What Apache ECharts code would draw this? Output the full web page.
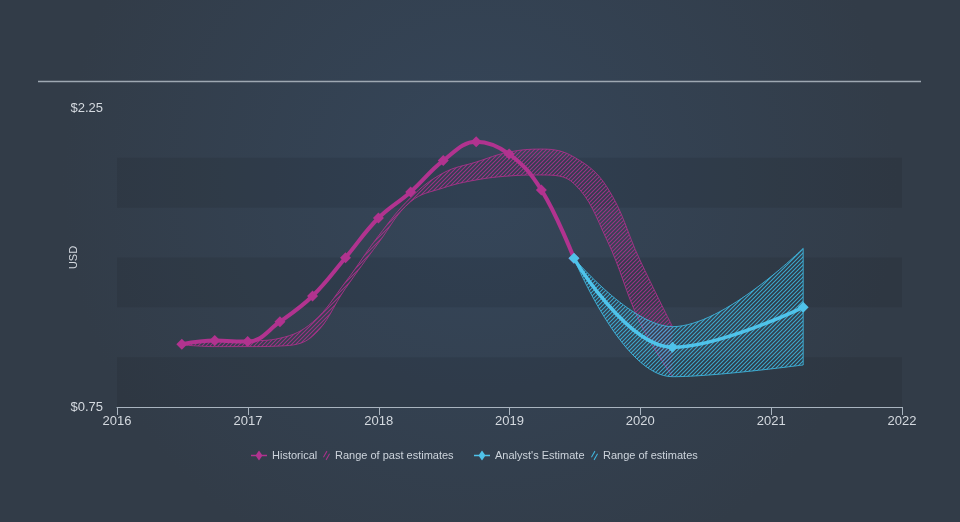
<!DOCTYPE html>
<html>
<head>
<meta charset="utf-8">
<script src="https://cdn.jsdelivr.net/npm/echarts@6/dist/echarts.min.js"></script>
<style>
html,body{margin:0;padding:0;background:#333f4e;}
#c{width:960px;height:522px;}
</style>
</head>
<body>
<div id="c"></div>
<script>
// ---- data ----
const histDates = ['2016-06-30','2016-09-30','2016-12-31','2017-03-31','2017-06-30','2017-09-30','2017-12-31','2018-03-31','2018-06-30','2018-09-30','2018-12-31','2019-03-31','2019-06-30'];
const histValues = [1.065,1.083,1.078,1.178,1.307,1.499,1.698,1.829,1.986,2.081,2.019,1.839,1.496];

const pastDates = ['2016-06-30','2016-09-30','2016-12-31','2017-03-31','2017-06-30','2017-09-30','2017-12-31','2018-03-31','2018-06-30','2018-09-30','2018-12-31','2019-03-31','2019-06-30','2019-09-30','2019-12-31','2020-03-31'];
const pastLow  = [1.062,1.053,1.053,1.056,1.105,1.345,1.573,1.780,1.849,1.889,1.909,1.914,1.871,1.588,1.176,0.902];
const pastHigh = [1.068,1.078,1.081,1.095,1.175,1.377,1.608,1.800,1.924,1.979,2.029,2.044,2.004,1.854,1.488,1.153];

const anaDates  = ['2019-06-30','2020-03-31','2021-03-31'];
const anaValues = [1.496,1.050,1.250];
const anaLow    = [1.496,0.902,0.961];
const anaHigh   = [1.496,1.153,1.546];

const yTicks = [0.75, 2.25];

// ---- styles ----
const MAG = '#b1338f';
const CYAN = '#4fc3ea';
const MAG_H = '#a8328a';
const CYAN_H = '#3fb4dc';

function hatch(color){
  const c = document.createElement('canvas');
  c.width = 4; c.height = 4;
  const g = c.getContext('2d');
  g.strokeStyle = color; g.lineWidth = 1.1;
  g.beginPath();
  g.moveTo(0,4); g.lineTo(4,0);
  g.moveTo(-1,1); g.lineTo(1,-1);
  g.moveTo(3,5); g.lineTo(5,3);
  g.stroke();
  return c;
}

const pairs = (d, v) => d.map((x,i)=>[x, v[i]]);
const diffs = (d, lo, hi) => d.map((x,i)=>[x, +(hi[i]-lo[i]).toFixed(4)]);

const diamondLine = 'path://M0,4.3 L5,4.3 L8,0 L11,4.3 L16,4.3 L16,5.7 L11,5.7 L8,10 L5,5.7 L0,5.7 Z';
const hatchIcon = 'path://M0,7 L4,0 L5,0.6 L1,7.6 Z M3,10 L7,3 L8,3.6 L4,10.6 Z';

const FONT = 'Liberation Sans, Arial, sans-serif';
const textStyle = {color:'#cdd4dc', fontSize:11, fontFamily:FONT};

const chart = echarts.init(document.getElementById('c'));
chart.setOption({
  animation:false,
  backgroundColor:{type:'radial', x:0.5, y:0.35, r:0.8, colorStops:[{offset:0,color:'#35465a'},{offset:1,color:'#323c48'}]},
  graphic:[{type:'line', shape:{x1:38,y1:81.5,x2:921,y2:81.5}, style:{stroke:'#9ea8b2', lineWidth:1.5}}],
  grid:{left:117, right:58, top:108, bottom:115},
  legend:[
    {left:251, top:450, padding:0, itemWidth:16, itemHeight:10, textStyle, data:[{name:'Historical', icon:diamondLine, itemStyle:{color:MAG}}]},
    {left:323, top:450, padding:0, itemWidth:7, itemHeight:10, textStyle, data:[{name:'Range of past estimates', icon:hatchIcon, itemStyle:{color:MAG_H}}]},
    {left:474, top:450, padding:0, itemWidth:16, itemHeight:10, textStyle, data:[{name:"Analyst's Estimate", icon:diamondLine, itemStyle:{color:CYAN}}]},
    {left:591, top:450, padding:0, itemWidth:7, itemHeight:10, textStyle, data:[{name:'Range of estimates', icon:hatchIcon, itemStyle:{color:CYAN_H}}]}
  ],
  xAxis:{
    type:'time', min:'2016-01-01', max:'2022-01-01',
    minInterval:365*24*3600*1000, maxInterval:366*24*3600*1000,
    axisLine:{lineStyle:{color:'#a9b4bf', width:1}},
    axisTick:{show:true, length:8, lineStyle:{color:'#a9b4bf'}},
    axisLabel:{color:'#d4d9df', fontSize:13, margin:8, fontFamily:FONT, formatter:'{yyyy}', showMinLabel:true, showMaxLabel:true},
    splitLine:{show:false}
  },
  yAxis:{
    type:'value', min:0.75, max:2.25, interval:0.25,
    name:'USD', nameLocation:'middle', nameRotate:90, nameGap:38, nameMoveOverlap:false,
    nameTextStyle:{color:'#d4d9df', fontSize:11, fontFamily:FONT},
    axisLine:{show:false}, axisTick:{show:false},
    axisLabel:{color:'#d4d9df', fontSize:13, margin:14, fontFamily:FONT,
      formatter:v=> yTicks.some(t=>Math.abs(t-v)<1e-6) ? '$'+v.toFixed(2) : ''},
    splitLine:{show:false},
    splitArea:{show:true, areaStyle:{color:['rgba(0,0,0,0.08)','rgba(0,0,0,0)']}}
  },
  series:[
    {name:'pastLow', type:'line', stack:'past', smooth:0.4, symbol:'none', z:1,
     data:pairs(pastDates, pastLow), lineStyle:{color:MAG_H, width:1, opacity:0.9}, itemStyle:{color:MAG_H}},
    {name:'Range of past estimates', type:'line', stack:'past', smooth:0.4, symbol:'none', z:1,
     data:diffs(pastDates, pastLow, pastHigh), lineStyle:{color:MAG_H, width:1, opacity:0.9},
     itemStyle:{color:MAG_H},
     areaStyle:{color:{image:hatch(MAG_H), repeat:'repeat'}, opacity:0.9}},
    {name:'anaLow', type:'line', stack:'ana', smooth:0.4, symbol:'none', z:2,
     data:pairs(anaDates, anaLow), lineStyle:{color:CYAN_H, width:1, opacity:0.9}, itemStyle:{color:CYAN_H}},
    {name:'Range of estimates', type:'line', stack:'ana', smooth:0.4, symbol:'none', z:2,
     data:diffs(anaDates, anaLow, anaHigh), lineStyle:{color:CYAN_H, width:1, opacity:0.9},
     itemStyle:{color:CYAN_H},
     areaStyle:{color:{image:hatch(CYAN_H), repeat:'repeat'}, opacity:0.9}},
    {name:'anaEdge', type:'line', symbol:'none', z:2,
     data:[[anaDates[2], anaLow[2]],[anaDates[2], anaHigh[2]]], lineStyle:{color:CYAN_H, width:1, opacity:0.9}, itemStyle:{color:CYAN_H}},
    {name:'Historical', type:'line', smooth:0.4, symbol:'diamond', symbolSize:11, z:5,
     data:pairs(histDates, histValues), lineStyle:{color:MAG, width:4}, itemStyle:{color:MAG}},
    {name:"Analyst's Estimate", type:'line', smooth:0.4, symbol:'diamond', symbolSize:11, z:6,
     data:pairs(anaDates, anaValues), lineStyle:{color:CYAN, width:3.5}, itemStyle:{color:CYAN}}
  ]
});
</script>
</body>
</html>
